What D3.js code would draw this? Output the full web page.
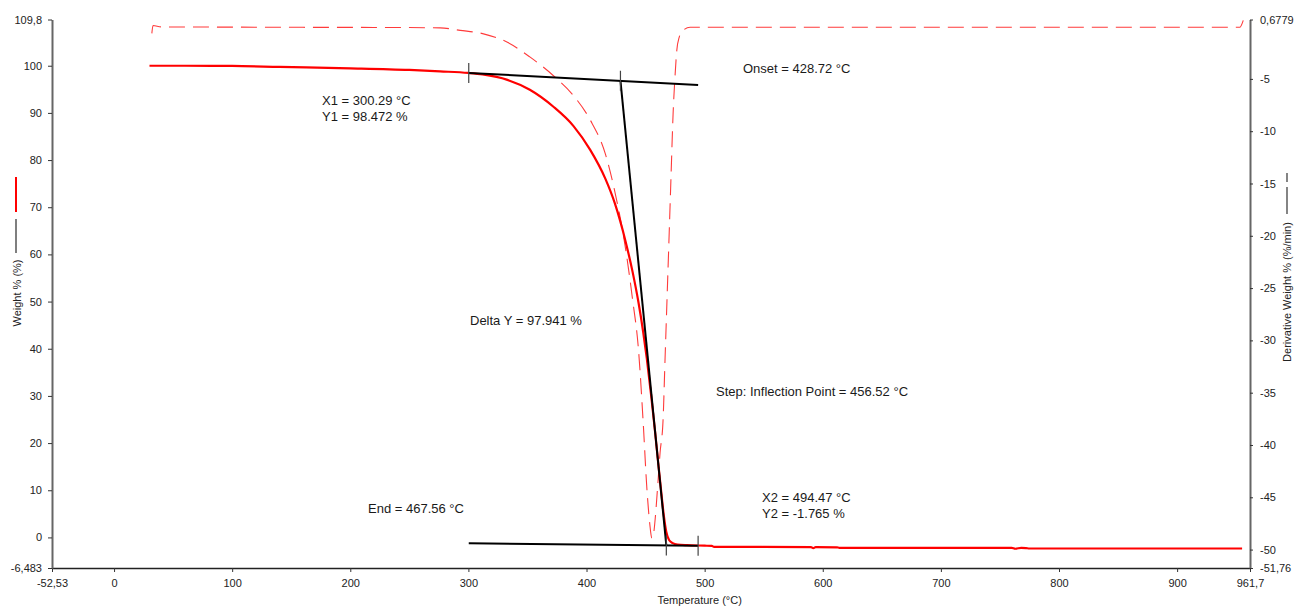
<!DOCTYPE html>
<html>
<head>
<meta charset="utf-8">
<script src="https://cdn.jsdelivr.net/npm/d3@7"></script>
<style>
  html, body { margin: 0; padding: 0; background: #fff; }
  svg { display: block; font-family: "Liberation Sans", Arial, sans-serif; }
</style>
</head>
<body>
<svg id="chart" width="1297" height="606"></svg>
<script>
// ---------- data ----------
const weightTemp = [30, 60, 100, 140, 200, 250, 276, 300, 312, 333, 352, 372, 389, 403, 416, 424, 433, 439, 444, 448, 451, 455, 458, 461, 463.5, 465.5, 467.5, 470, 473, 477, 485, 500, 506, 508, 590, 592, 594, 612, 614, 760, 763, 768, 772, 775, 955];
const weightPct  = [100.0, 100.0, 99.95, 99.75, 99.45, 99.1, 98.8, 98.47, 98.15, 97.0, 94.9, 91.3, 87.2, 82.2, 76.0, 70.8, 62.8, 56.3, 49.8, 43.5, 38.0, 29.5, 22.5, 15.0, 9.0, 4.5, 1.2, -0.6, -1.2, -1.5, -1.65, -1.75, -1.8, -2.0, -2.05, -2.3, -2.05, -2.1, -2.2, -2.2, -2.4, -2.2, -2.25, -2.35, -2.35];

const derivTemp = [32, 33, 40, 100, 160, 220, 276, 293, 312, 333, 352, 372, 389, 403, 416, 424, 433, 439, 444, 448, 451, 453.5, 455.3, 457, 458.1, 460.2, 462.3, 464.8, 466.5, 468.2, 470, 471.6, 473.3, 475, 476.4, 478.5, 481.8, 487.7, 600, 800, 953, 956];
const derivVal  = [-0.65, 0.1, -0.03, -0.05, -0.07, -0.08, -0.12, -0.36, -0.67, -1.5, -2.9, -4.7, -6.6, -8.9, -12.2, -15.8, -21.2, -26.1, -30.9, -37.9, -44.0, -47.5, -48.9, -48.3, -47.1, -44.0, -40.7, -37.6, -31.7, -25.9, -19.7, -14.1, -8.3, -4.6, -2.3, -1.0, -0.36, -0.07, -0.07, -0.07, -0.07, 0.6];

const baseline1 = [[300.29, 98.472], [494.47, 95.92]];
const baseline2 = [[300.29, -1.25], [494.47, -1.765]];
const tangentLine = [[428.72, 96.83], [467.56, -1.69]];
const stepMarks = [[300.29, 98.472], [428.72, 96.83], [467.56, -1.69], [494.47, -1.765]];

const xTicks = [-52.53, 0, 100, 200, 300, 400, 500, 600, 700, 800, 900, 961.7];
const xTickLabels = ["-52,53", "0", "100", "200", "300", "400", "500", "600", "700", "800", "900", "961,7"];
const leftTicks = [-6.483, 0, 10, 20, 30, 40, 50, 60, 70, 80, 90, 100, 109.8];
const leftTickLabels = ["-6,483", "0", "10", "20", "30", "40", "50", "60", "70", "80", "90", "100", "109,8"];
const rightTicks = [-51.76, -50, -45, -40, -35, -30, -25, -20, -15, -10, -5, 0.6779];
const rightTickLabels = ["-51,76", "-50", "-45", "-40", "-35", "-30", "-25", "-20", "-15", "-10", "-5", "0,6779"];

const annotationTexts = [
  "Onset = 428.72 °C",
  "X1 = 300.29 °C",
  "Y1 = 98.472 %",
  "Delta Y = 97.941 %",
  "Step: Inflection Point = 456.52 °C",
  "X2 = 494.47 °C",
  "Y2 = -1.765 %",
  "End = 467.56 °C"
];
const annotationPos = [[743, 73], [322, 105], [322, 121], [470, 325], [716, 396], [762, 502], [762, 518], [368, 513]];

// ---------- layout ----------
const L = 52, R = 1250, T = 19.5, B = 568;
const svg = d3.select("#chart");
svg.append("rect").attr("width", 1297).attr("height", 606).attr("fill", "#fff");

const x = d3.scaleLinear().domain([-52.53, 961.7]).range([L, R]);
const yL = d3.scaleLinear().domain([-6.483, 109.8]).range([B, T]);
const yR = d3.scaleLinear().domain([-51.76, 0.6779]).range([B, T]);

svg.append("clipPath").attr("id", "clip").append("rect")
  .attr("x", L).attr("y", T - 2).attr("width", R - L).attr("height", B - T + 2);

const plot = svg.append("g").attr("clip-path", "url(#clip)");

// derivative (dashed)
const derivData = derivTemp.map((t, i) => [t, derivVal[i]]);
plot.append("path")
  .datum(derivData)
  .attr("fill", "none")
  .attr("stroke", "#ff3b3b")
  .attr("stroke-width", 1.1)
  .attr("stroke-dasharray", "16,8")
  .attr("d", d3.line().curve(d3.curveMonotoneX).x(d => x(d[0])).y(d => yR(d[1])));

// weight (solid)
const weightData = weightTemp.map((t, i) => [t, weightPct[i]]);
plot.append("path")
  .datum(weightData)
  .attr("fill", "none")
  .attr("stroke", "#ff0000")
  .attr("stroke-width", 2.2)
  .attr("stroke-linejoin", "round")
  .attr("d", d3.line().curve(d3.curveMonotoneX).x(d => x(d[0])).y(d => yL(d[1])));

// analysis lines
const lineL = d3.line().x(d => x(d[0])).y(d => yL(d[1]));
[baseline1, baseline2, tangentLine].forEach(seg => {
  plot.append("path").datum(seg)
    .attr("fill", "none").attr("stroke", "#000").attr("stroke-width", 2)
    .attr("d", lineL);
});
stepMarks.forEach(p => {
  plot.append("line")
    .attr("x1", x(p[0])).attr("x2", x(p[0]))
    .attr("y1", yL(p[1]) - 10).attr("y2", yL(p[1]) + 10)
    .attr("stroke", "#444").attr("stroke-width", 1.2);
});

// annotations
annotationTexts.forEach((s, i) => {
  svg.append("text")
    .attr("x", annotationPos[i][0]).attr("y", annotationPos[i][1])
    .attr("font-size", 13).attr("fill", "#1a1a1a")
    .text(s);
});

// ---------- axes ----------
const gx = svg.append("g").attr("transform", `translate(0,${B})`)
  .call(d3.axisBottom(x).tickValues(xTicks).tickSize(4).tickSizeOuter(0).tickPadding(7)
    .tickFormat((d, i) => xTickLabels[i]));
gx.select(".domain").attr("stroke", "#222").attr("stroke-width", 1.5);

const gl = svg.append("g").attr("transform", `translate(${L},0)`)
  .call(d3.axisLeft(yL).tickValues(leftTicks).tickSize(4).tickSizeOuter(0).tickPadding(6)
    .tickFormat((d, i) => leftTickLabels[i]));
gl.select(".domain").attr("stroke", "#666").attr("stroke-width", 2);

const gr = svg.append("g").attr("transform", `translate(${R},0)`)
  .call(d3.axisRight(yR).tickValues(rightTicks).tickSize(3).tickSizeOuter(0).tickPadding(7)
    .tickFormat((d, i) => rightTickLabels[i]));
gr.select(".domain").attr("stroke", "#666").attr("stroke-width", 2);

[gx, gl, gr].forEach(g => {
  g.selectAll("text").attr("font-size", 11).attr("fill", "#222")
    .attr("font-family", "'Liberation Sans', Arial, sans-serif");
  g.selectAll(".tick line").attr("stroke", "#333");
});

// axis titles
svg.append("text").attr("x", x(500) - 5).attr("y", 604)
  .attr("text-anchor", "middle").attr("font-size", 11).attr("fill", "#222")
  .text("Temperature (°C)");

svg.append("text").attr("transform", "translate(21,293) rotate(-90)")
  .attr("text-anchor", "middle").attr("font-size", 11).attr("fill", "#222")
  .text("Weight % (%)");
svg.append("line").attr("x1", 16).attr("x2", 16).attr("y1", 177).attr("y2", 212)
  .attr("stroke", "#ff0000").attr("stroke-width", 2);
svg.append("line").attr("x1", 16).attr("x2", 16).attr("y1", 219).attr("y2", 253)
  .attr("stroke", "#555").attr("stroke-width", 1.5);

svg.append("text").attr("transform", "translate(1291,292) rotate(-90)")
  .attr("text-anchor", "middle").attr("font-size", 11).attr("fill", "#222")
  .text("Derivative Weight % (%/min)");
svg.append("line").attr("x1", 1287).attr("x2", 1287).attr("y1", 173).attr("y2", 182)
  .attr("stroke", "#333").attr("stroke-width", 1.2);
svg.append("line").attr("x1", 1287).attr("x2", 1287).attr("y1", 187).attr("y2", 214)
  .attr("stroke", "#333").attr("stroke-width", 1.2);
</script>
</body>
</html>
